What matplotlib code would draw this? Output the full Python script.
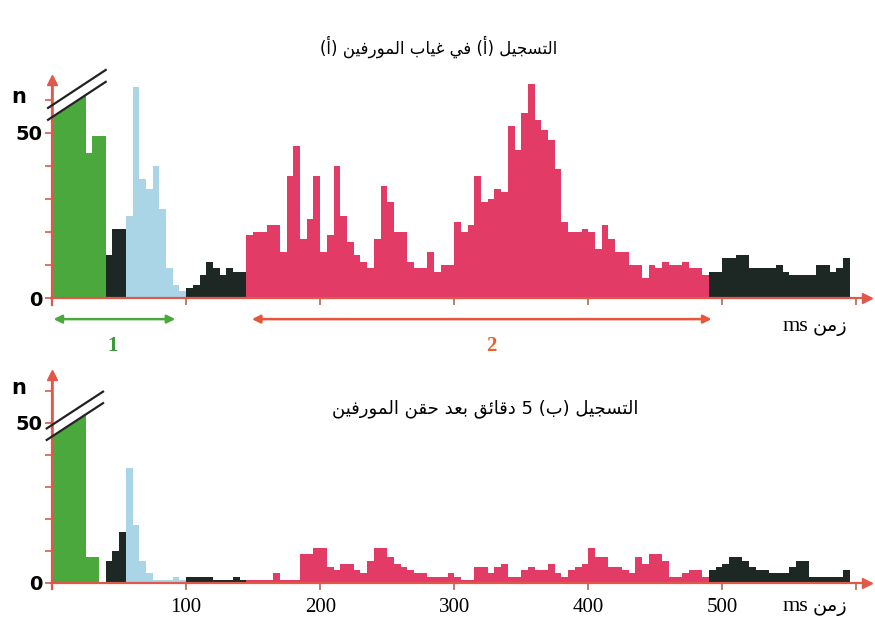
import numpy as np
import matplotlib.pyplot as plt

# ---- data (5 ms bins, values = spike counts n) ----
bin_w = 5

# recording (a): without morphine
a_green_start, a_green = 0, [66, 66, 66, 66, 66, 44, 49, 49]
a_black1_start, a_black1 = 40, [13, 21, 21]
a_blue_start, a_blue = 55, [25, 64, 36, 33, 40, 27, 9, 4, 2]
a_black2_start, a_black2 = 100, [3, 4, 7, 11, 9, 7, 9, 8, 8]
a_pink_start, a_pink = 145, [19, 20, 20, 22, 22, 14, 37, 46, 18, 24,
                              37, 14, 19, 40, 25, 17, 13, 11, 9, 18,
                              34, 29, 20, 20, 11, 9, 9, 14, 8, 10,
                              10, 23, 20, 22, 37, 29, 30, 33, 32, 52,
                              45, 56, 65, 54, 51, 48, 39, 23, 20, 20,
                              21, 20, 15, 22, 18, 14, 14, 10, 10, 6,
                              10, 9, 11, 10, 10, 11, 9, 9, 7]
a_black3_start, a_black3 = 490, [8, 8, 12, 12, 13, 13, 9, 9, 9, 9,
                                 10, 8, 7, 7, 7, 7, 10, 10, 8, 9, 12]

# recording (b): 5 minutes after morphine injection
b_green_start, b_green = 0, [66, 66, 66, 66, 66, 8, 8]
b_black1_start, b_black1 = 40, [7, 10, 16]
b_blue_start, b_blue = 55, [36, 18, 7, 3, 1, 1, 1, 2, 1]
b_black2_start, b_black2 = 100, [2, 2, 2, 2, 1, 1, 1, 2, 1]
b_pink_start, b_pink = 145, [1, 1, 1, 1, 3, 1, 1, 1, 9, 9,
                              11, 11, 5, 4, 6, 6, 4, 3, 7, 11,
                              11, 8, 6, 5, 4, 3, 3, 2, 2, 2,
                              3, 2, 1, 1, 5, 5, 3, 5, 6, 2,
                              2, 4, 5, 4, 4, 6, 3, 2, 4, 5,
                              6, 11, 8, 8, 5, 5, 4, 3, 8, 6,
                              9, 9, 7, 2, 2, 3, 4, 4, 2]
b_black3_start, b_black3 = 490, [4, 5, 6, 8, 8, 7, 5, 4, 4, 3,
                                 3, 3, 5, 7, 7, 2, 2, 2, 2, 2, 4]

x_ticks = [100, 200, 300, 400, 500, 600]
x_ticklabels = ['100', '200', '300', '400', '500', '']
y_ticks = [0, 10, 20, 30, 40, 50, 60]
y_ticklabels = ['0', '', '', '', '', '50', '']

GREEN = '#4aa83c'
BLACK = '#1d2824'
BLUE = '#a9d5e6'
PINK = '#e23c66'
AXIS = '#e0584a'

# ---- minimal arabic shaping (matplotlib has no complex text layout) ----
FORMS = {
    'ا': ('\uFE8D', '\uFE8E', None, None),
    'أ': ('\uFE83', '\uFE84', None, None),
    'ب': ('\uFE8F', '\uFE90', '\uFE91', '\uFE92'),
    'ت': ('\uFE95', '\uFE96', '\uFE97', '\uFE98'),
    'ج': ('\uFE9D', '\uFE9E', '\uFE9F', '\uFEA0'),
    'ح': ('\uFEA1', '\uFEA2', '\uFEA3', '\uFEA4'),
    'د': ('\uFEA9', '\uFEAA', None, None),
    'ر': ('\uFEAD', '\uFEAE', None, None),
    'ز': ('\uFEAF', '\uFEB0', None, None),
    'س': ('\uFEB1', '\uFEB2', '\uFEB3', '\uFEB4'),
    'ع': ('\uFEC9', '\uFECA', '\uFECB', '\uFECC'),
    'غ': ('\uFECD', '\uFECE', '\uFECF', '\uFED0'),
    'ف': ('\uFED1', '\uFED2', '\uFED3', '\uFED4'),
    'ق': ('\uFED5', '\uFED6', '\uFED7', '\uFED8'),
    'ل': ('\uFEDD', '\uFEDE', '\uFEDF', '\uFEE0'),
    'م': ('\uFEE1', '\uFEE2', '\uFEE3', '\uFEE4'),
    'ن': ('\uFEE5', '\uFEE6', '\uFEE7', '\uFEE8'),
    'و': ('\uFEED', '\uFEEE', None, None),
    'ي': ('\uFEF1', '\uFEF2', '\uFEF3', '\uFEF4'),
    'ئ': ('\uFE89', '\uFE8A', '\uFE8B', '\uFE8C'),
}


def ar(s):
    out = []
    for i, c in enumerate(s):
        if c not in FORMS:
            out.append(c)
            continue
        p = s[i - 1] if i > 0 else ''
        n = s[i + 1] if i + 1 < len(s) else ''
        jp = p in FORMS and FORMS[p][2] is not None
        jn = FORMS[c][2] is not None and n in FORMS
        f = FORMS[c]
        if jp and jn:
            out.append(f[3])
        elif jp:
            out.append(f[1])
        elif jn:
            out.append(f[2])
        else:
            out.append(f[0])
    return ''.join(out)[::-1].translate(str.maketrans('()', ')('))


def bars(ax, start, vals, color):
    t = start + bin_w * np.arange(len(vals))
    ax.bar(t, vals, width=bin_w, align='edge', color=color, linewidth=0, zorder=2)


def setup(ax, ylo, ytop_arrow, labels):
    ax.set_xlim(-12, 612)
    ax.set_ylim(ylo, 68)
    for s in ['top', 'right']:
        ax.spines[s].set_visible(False)
    ax.spines['bottom'].set_position(('data', 0))
    ax.spines['left'].set_position(('data', 0))
    ax.spines['bottom'].set_bounds(-1, 606)
    ax.spines['left'].set_bounds(-2, ytop_arrow - 1)
    for s in ['bottom', 'left']:
        ax.spines[s].set_color(AXIS)
        ax.spines[s].set_linewidth(1.6)
        ax.spines[s].set_zorder(4)
    ax.plot(608, 0, '>', color=AXIS, ms=7, clip_on=False, zorder=5)
    ax.plot(0, ytop_arrow, '^', color=AXIS, ms=7, clip_on=False, zorder=5)
    ax.set_xticks(x_ticks)
    ax.set_xticklabels(x_ticklabels if labels else [''] * len(x_ticks),
                       family='Liberation Serif', fontsize=15)
    ax.set_yticks(y_ticks)
    ax.set_yticklabels(y_ticklabels, fontweight='bold', fontsize=14)
    ax.tick_params(axis='x', direction='out', length=5, width=1.2, color='#b06a50', pad=6)
    ax.tick_params(axis='y', direction='out', length=5, width=1.2, color=AXIS, pad=2)
    ax.patch.set_alpha(0)
    ax.text(-25, 61, 'n', fontsize=15, fontweight='bold', ha='center', va='center')


def breakmark(ax, t0, t1, lo0, lo1, gap):
    xs = np.array([t0, t1])
    lo = np.array([lo0, lo1])
    ax.fill_between([0.9, t1], [lo0 + (0.9 - t0) * (lo1 - lo0) / (t1 - t0), lo1], 90,
                    color='white', zorder=3, linewidth=0)
    ax.plot(xs, lo, color='#222222', lw=1.6, zorder=6, clip_on=False)
    ax.plot(xs, lo + gap, color='#222222', lw=1.6, zorder=6, clip_on=False)


def time_label(ax, y):
    ax.text(564, y, 'ms', family='Liberation Serif', fontsize=16, ha='right', va='center')
    ax.text(567, y, ar('زمن'), family='DejaVu Sans', fontsize=14, ha='left', va='center')


fig = plt.figure(figsize=(8.75, 6.31), dpi=100)
W, H = 875, 631
x_left = 36 / W
x_w = 836.5 / W

# top panel
ax1 = fig.add_axes([x_left, 1 - 357.4 / H, x_w, (357.4 - 73.6) / H])
bars(ax1, a_green_start, a_green, GREEN)
bars(ax1, a_black1_start, a_black1, BLACK)
bars(ax1, a_blue_start, a_blue, BLUE)
bars(ax1, a_black2_start, a_black2, BLACK)
bars(ax1, a_pink_start, a_pink, PINK)
bars(ax1, a_black3_start, a_black3, BLACK)
setup(ax1, -18, 66, False)
breakmark(ax1, -3, 40, 54.0, 65.5, 3.6)
ax1.text(288, 76, ar('التسجيل (أ) في غياب المورفين (أ)'), family='DejaVu Sans',
         fontsize=12, ha='center', va='center')
ax1.annotate('', xy=(-1, -6.4), xytext=(94, -6.4),
             arrowprops=dict(arrowstyle='<|-|>', color=GREEN, lw=1.8, mutation_scale=12))
ax1.annotate('', xy=(147, -6.4), xytext=(494, -6.4),
             arrowprops=dict(arrowstyle='<|-|>', color='#e8553a', lw=1.8, mutation_scale=12))
ax1.text(45, -14.5, '1', color='#3a9a3a', fontsize=15, fontweight='bold',
         family='Liberation Serif', ha='center', va='center')
ax1.text(328, -14.5, '2', color='#e8602c', fontsize=15, fontweight='bold',
         family='Liberation Serif', ha='center', va='center')
time_label(ax1, -8.5)

# bottom panel
ax2 = fig.add_axes([x_left, 0, x_w, 265.6 / H])
bars(ax2, b_green_start, b_green, GREEN)
bars(ax2, b_black1_start, b_black1, BLACK)
bars(ax2, b_blue_start, b_blue, BLUE)
bars(ax2, b_black2_start, b_black2, BLACK)
bars(ax2, b_pink_start, b_pink, PINK)
bars(ax2, b_black3_start, b_black3, BLACK)
setup(ax2, -15, 65, True)
breakmark(ax2, -4, 38, 44.7, 56.2, 3.6)
ax2.text(323, 54.5, ar('التسجيل (ب) 5 دقائق بعد حقن المورفين'), family='DejaVu Sans',
         fontsize=13, ha='center', va='center')
time_label(ax2, -7.2)

fig.savefig('out.png', dpi=100)
